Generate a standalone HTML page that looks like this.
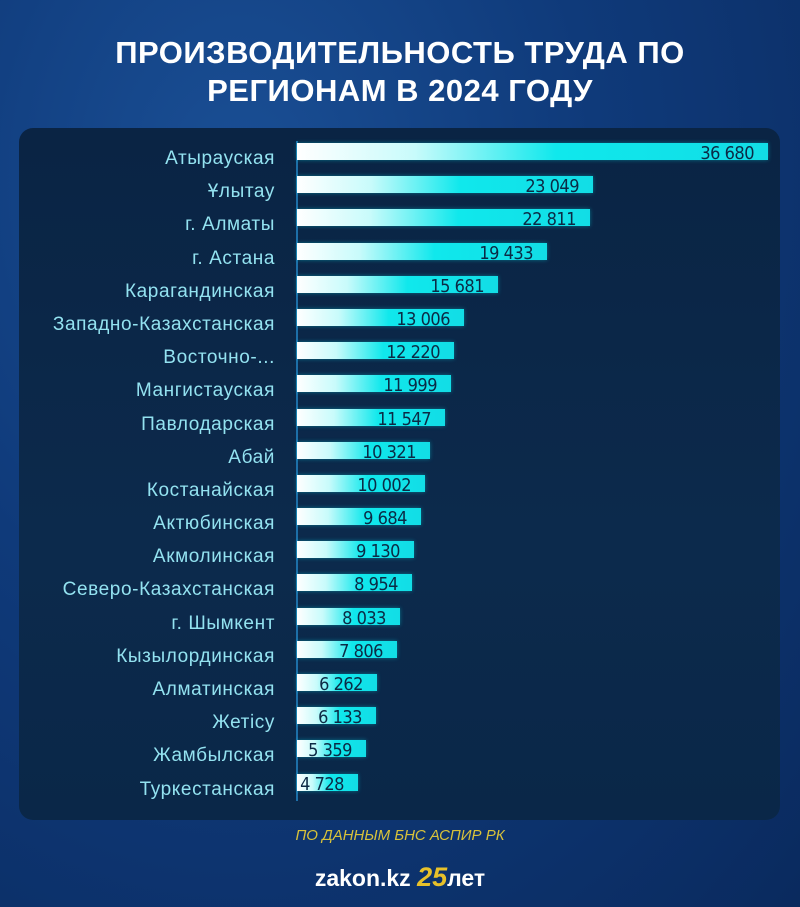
<!DOCTYPE html><html><head><meta charset="utf-8"><style>
body{margin:0;width:800px;height:907px;overflow:hidden;background:radial-gradient(ellipse at 30% 20%,#1a4f95 0%,#0f3a7a 45%,#0a2a5e 100%);font-family:"Liberation Sans","DejaVu Sans",sans-serif;position:relative}
.t{position:absolute;top:34px;left:0;width:800px;text-align:center;color:#fff;font-weight:bold;font-size:31px;line-height:38px;letter-spacing:0.5px}
.panel{position:absolute;left:19px;top:128px;width:761px;height:692px;background:linear-gradient(180deg,#0a2444,#0c2a4c 60%,#0a2748);border-radius:14px}
.rows{position:absolute;left:0;top:143px;width:800px}
.r{position:relative;height:33.2px}
.l{position:absolute;right:525px;top:3px;color:#93e2f0;font-size:19px;line-height:26px;white-space:nowrap;letter-spacing:0.6px}
.b{position:absolute;left:297px;top:0;height:17px;background:linear-gradient(90deg,#ffffff 0%,#c8fbfb 25%,#10e8ec 55%,#12dde6 100%);box-shadow:0 0 4px rgba(0,230,240,.4)}
.v{position:absolute;right:14px;top:0px;color:#0b2a45;font-size:18px;line-height:22px;white-space:nowrap;letter-spacing:-0.5px;font-family:"DejaVu Sans Condensed","Liberation Sans Narrow","Liberation Sans",sans-serif}
.axis{position:absolute;left:296px;top:141px;width:2px;height:660px;background:#1d6fa8}
.src{position:absolute;top:827px;width:800px;text-align:center;color:#d8c23a;font-style:italic;font-size:15px}
.logo{position:absolute;top:862px;width:800px;text-align:center;color:#fff;font-size:23px;font-weight:bold}
.logo span{color:#e8c12a;font-size:27px;font-style:italic}
</style></head><body>
<div class="t">ПРОИЗВОДИТЕЛЬНОСТЬ ТРУДА ПО<br>РЕГИОНАМ В 2024 ГОДУ</div>
<div class="panel"></div>
<div class="axis"></div>
<div class="rows">
<div class="r"><div class="l">Атырауская</div><div class="b" style="width:471px"><div class="v">36 680</div></div></div>
<div class="r"><div class="l">Ұлытау</div><div class="b" style="width:296px"><div class="v">23 049</div></div></div>
<div class="r"><div class="l">г. Алматы</div><div class="b" style="width:293px"><div class="v">22 811</div></div></div>
<div class="r"><div class="l">г. Астана</div><div class="b" style="width:250px"><div class="v">19 433</div></div></div>
<div class="r"><div class="l">Карагандинская</div><div class="b" style="width:201px"><div class="v">15 681</div></div></div>
<div class="r"><div class="l">Западно-Казахстанская</div><div class="b" style="width:167px"><div class="v">13 006</div></div></div>
<div class="r"><div class="l">Восточно-...</div><div class="b" style="width:157px"><div class="v">12 220</div></div></div>
<div class="r"><div class="l">Мангистауская</div><div class="b" style="width:154px"><div class="v">11 999</div></div></div>
<div class="r"><div class="l">Павлодарская</div><div class="b" style="width:148px"><div class="v">11 547</div></div></div>
<div class="r"><div class="l">Абай</div><div class="b" style="width:133px"><div class="v">10 321</div></div></div>
<div class="r"><div class="l">Костанайская</div><div class="b" style="width:128px"><div class="v">10 002</div></div></div>
<div class="r"><div class="l">Актюбинская</div><div class="b" style="width:124px"><div class="v">9 684</div></div></div>
<div class="r"><div class="l">Акмолинская</div><div class="b" style="width:117px"><div class="v">9 130</div></div></div>
<div class="r"><div class="l">Северо-Казахстанская</div><div class="b" style="width:115px"><div class="v">8 954</div></div></div>
<div class="r"><div class="l">г. Шымкент</div><div class="b" style="width:103px"><div class="v">8 033</div></div></div>
<div class="r"><div class="l">Кызылординская</div><div class="b" style="width:100px"><div class="v">7 806</div></div></div>
<div class="r"><div class="l">Алматинская</div><div class="b" style="width:80px"><div class="v">6 262</div></div></div>
<div class="r"><div class="l">Жетісу</div><div class="b" style="width:79px"><div class="v">6 133</div></div></div>
<div class="r"><div class="l">Жамбылская</div><div class="b" style="width:69px"><div class="v">5 359</div></div></div>
<div class="r"><div class="l">Туркестанская</div><div class="b" style="width:61px"><div class="v">4 728</div></div></div>
</div>
<div class="src">ПО ДАННЫМ БНС АСПИР РК</div>
<div class="logo">zakon.kz <span>25</span>лет</div>
</body></html>
